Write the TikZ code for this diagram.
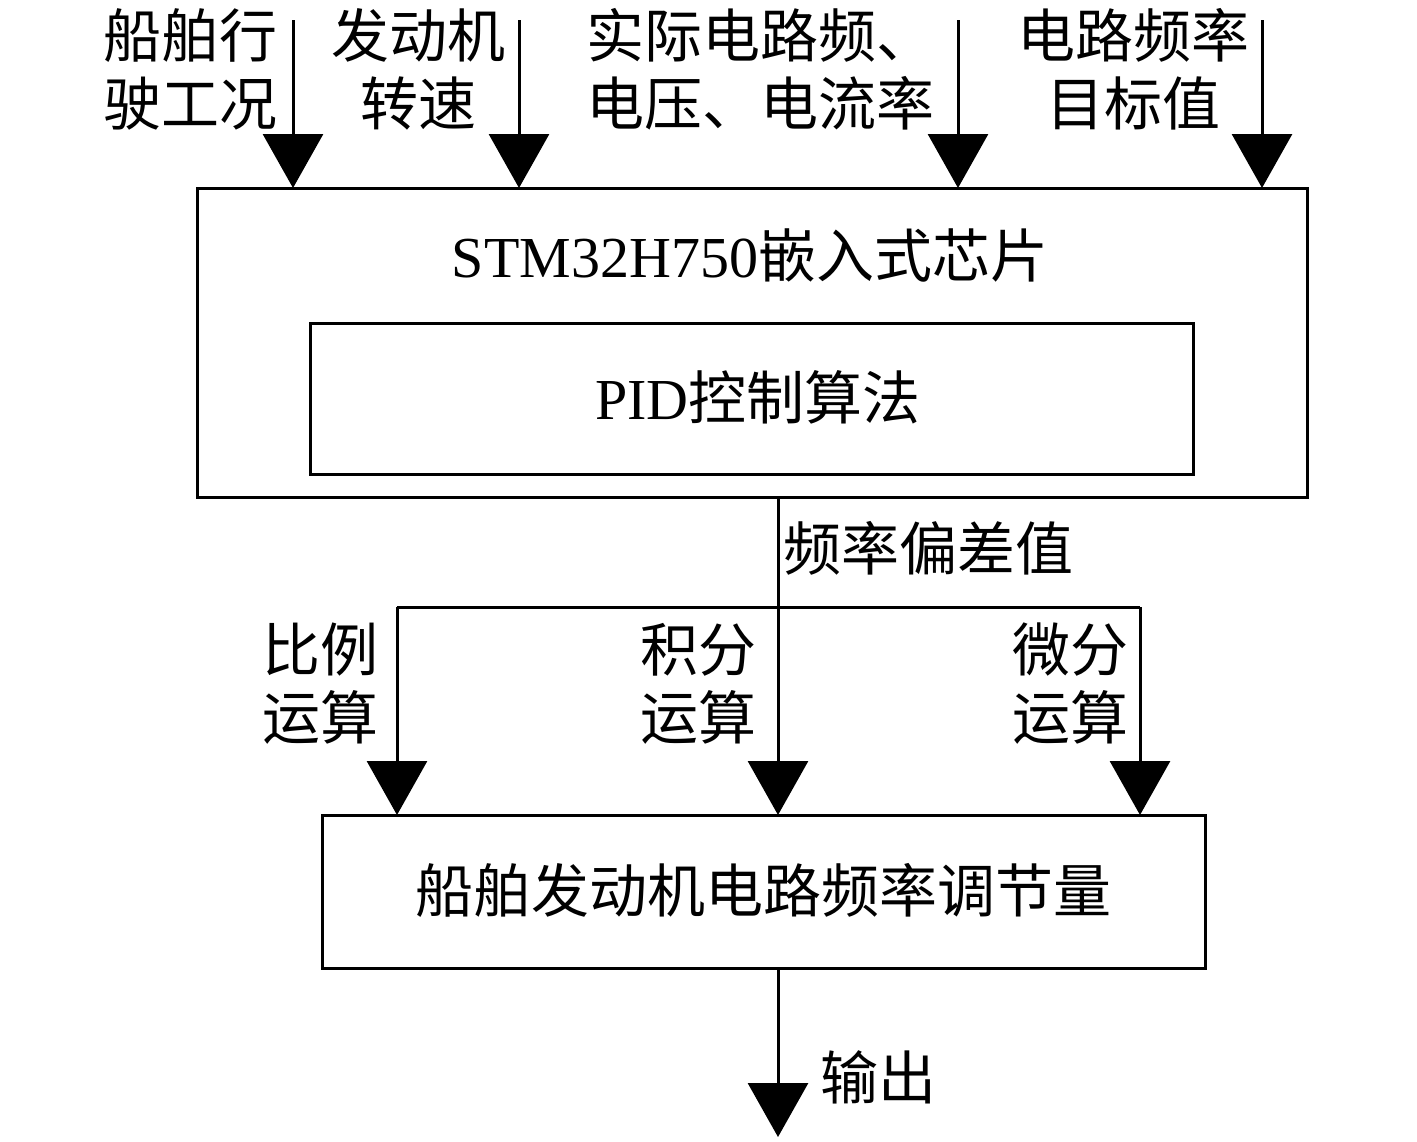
\documentclass[tikz,border=0pt]{standalone}
\usepackage{fontspec}
\setmainfont{Liberation Serif}
\newfontfamily\cjk{Noto Sans CJK SC}
\usetikzlibrary{arrows.meta}
\begin{document}
\begin{tikzpicture}[x=0.5pt,y=-0.5pt,
  box/.style={draw,line width=1.5pt},
  lbl/.style={font=\fontsize{29}{34}\selectfont\cjk,align=center,inner sep=0pt},
  conn/.style={line width=1.5pt},
  arr/.style={line width=1.5pt,-{Triangle[length=27pt,width=30pt]}}]
\useasboundingbox (0,0) rectangle (1417,1141);
% boxes
\draw[box] (197,188) rectangle (1307,497);
\node[lbl] (chip) at (750,255) {{\rmfamily STM32H750}嵌入式芯片};
\draw[box] (310,323) rectangle (1193,474);
\node[lbl] (pid) at (758,397) {{\rmfamily PID}控制算法};
\draw[box] (322,815) rectangle (1205,968);
\node[lbl] (out) at (763,890) {船舶发动机电路频率调节量};
% input coordinates
\coordinate (i1s) at (293,20); \coordinate (i1e) at (293,188);
\coordinate (i2s) at (519,20); \coordinate (i2e) at (519,188);
\coordinate (i3s) at (958,20); \coordinate (i3e) at (958,188);
\coordinate (i4s) at (1262,20); \coordinate (i4e) at (1262,188);
\draw[arr] (i1s) -- (i1e);
\draw[arr] (i2s) -- (i2e);
\draw[arr] (i3s) -- (i3e);
\draw[arr] (i4s) -- (i4e);
\node[lbl] (l1) at (190,69) {船舶行\\驶工况};
\node[lbl] (l2) at (418,69) {发动机\\转速};
\node[lbl] (l3) at (760,69) {实际电路频、\\电压、电流率};
\node[lbl] (l4) at (1133,69) {电路频率\\目标值};
% deviation
\coordinate (d0) at (778,497);
\coordinate (d1) at (778,607);
\coordinate (hl) at (397,607);
\coordinate (hr) at (1140,607);
\coordinate (e1) at (397,815);
\coordinate (e2) at (778,815);
\coordinate (e3) at (1140,815);
\draw[conn] (d0) -- (d1);
\draw[conn] (hl) -- (hr);
\draw[arr] (hl) -- (e1);
\draw[arr] (d1) -- (e2);
\draw[arr] (hr) -- (e3);
\node[lbl] (dev) at (928,548) {频率偏差值};
\node[lbl] (p) at (320,684) {比例\\运算};
\node[lbl] (iop) at (698,684) {积分\\运算};
\node[lbl] (dop) at (1070,684) {微分\\运算};
% output
\coordinate (o0) at (778,968);
\coordinate (o1) at (778,1137);
\draw[arr] (o0) -- (o1);
\node[lbl] (outl) at (878,1077) {输出};
\end{tikzpicture}
\end{document}
